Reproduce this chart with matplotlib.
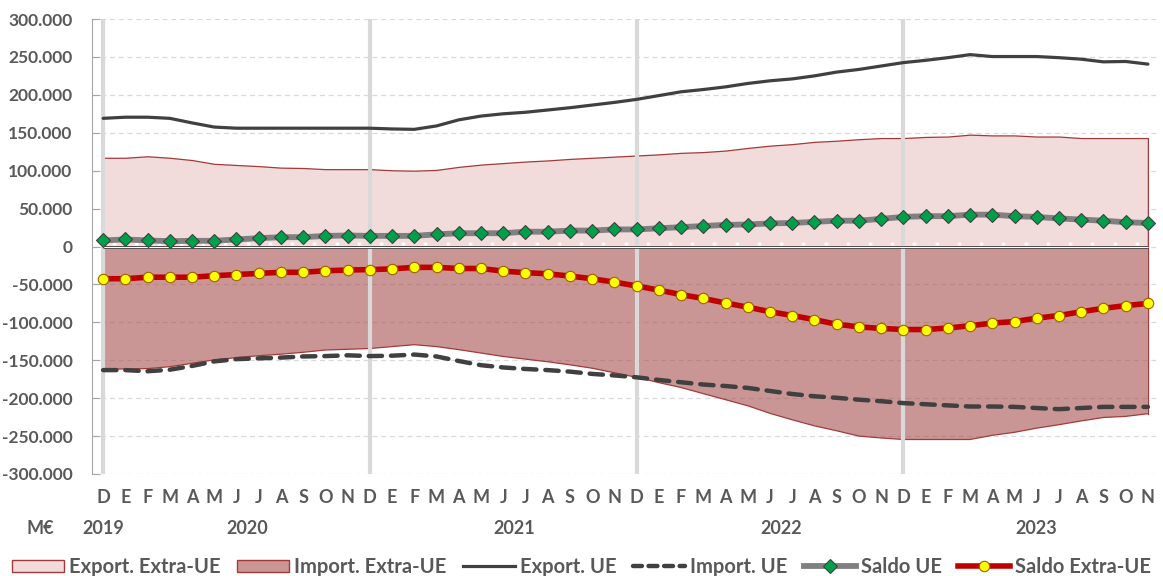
import matplotlib
matplotlib.use('Agg')
import matplotlib.pyplot as plt
from matplotlib.patches import Patch
from matplotlib.lines import Line2D
from matplotlib.ticker import FuncFormatter
import numpy as np

plt.rcParams['font.family'] = ['Lato', 'DejaVu Sans']
plt.rcParams['font.weight'] = 'bold'

# months Dec 2019 .. Nov 2023 (M€, thousands)
months = ['D'] + ['E', 'F', 'M', 'A', 'M', 'J', 'J', 'A', 'S', 'O', 'N', 'D'] * 3 + \
         ['E', 'F', 'M', 'A', 'M', 'J', 'J', 'A', 'S', 'O', 'N']
years = ['2019', '2020', '2021', '2022', '2023']
year_pos = [0, 6.5, 18.5, 30.5, 42]

export_ue = [169, 170.5, 170.5, 169, 163, 157.5, 156, 156, 156, 156, 156, 156, 156,
             155, 154.5, 159, 167, 172, 175, 177, 180, 183, 186.5, 190, 194, 199, 204, 207, 210.5, 215, 218.5,
             221, 225, 230, 233.5, 238, 242.5, 245.5, 249, 253, 250.5, 250.5, 250.5, 249, 247, 243.5, 244, 240.5]
export_extra = [117, 117, 119, 117, 114, 109, 107.5, 106, 104, 103.5, 102, 102, 102,
                100.5, 100, 101, 105, 108, 110, 112, 113.5, 115.5, 117, 118.5, 120, 121.5, 123.5, 124.5, 126.5, 130, 133,
                135, 138, 139.5, 141.5, 143, 143, 144.5, 145, 147.5, 146.5, 146.5, 145, 145, 143, 143, 143, 143]
saldo_ue = [8, 9.3, 8, 7, 7.5, 7.5, 9.3, 11, 12.3, 12.3, 14, 14.5, 14,
            14, 14, 16, 17.5, 17.5, 17.5, 19.5, 19.5, 21, 21, 22.5, 22.5, 24, 25.5, 27, 28.5, 29, 30.5,
            31, 32.5, 34, 34, 36.5, 39, 40, 40, 42, 42, 40, 39, 37, 35.5, 34, 32, 31]
saldo_extra = [-42.5, -42.5, -40.5, -40.5, -40.5, -38.5, -37, -35.5, -34, -34, -32, -31, -30.5,
               -29.5, -27.5, -27.5, -29, -29, -32.5, -34.5, -36, -39, -42.5, -47, -52, -57.5, -63.5, -68.5, -74.5, -80, -86,
               -91, -96.5, -102.5, -106, -108, -109.5, -109.5, -107.5, -104.5, -101, -99, -94.5, -91, -86, -81.5, -78, -75]
import_extra = [-161.5, -161.5, -161, -158.5, -154, -149.5, -146.5, -144, -142, -139.5, -136.5, -135.5, -134.5,
                -132, -129.5, -132, -136, -140.5, -145, -148.5, -152, -156, -160.5, -166.5, -172.5, -179.5, -186, -194, -202, -210, -220,
                -228.5, -236.5, -243, -250, -252.5, -254.5, -254.5, -254.5, -254.5, -249, -245, -239.5, -235, -230, -225.5, -224, -220.5]
import_ue = [-163, -163, -164.5, -162.5, -157.5, -151.5, -148.5, -147.5, -146.5, -145, -144.5, -143.5, -144.5,
             -144, -142.5, -145, -151, -156.5, -159.5, -161.5, -163, -165, -168, -170, -172.5, -176, -179, -182, -184, -186.5, -190.5,
             -194.5, -197.5, -199.5, -202, -204, -206.5, -208, -209.5, -211, -211, -211.5, -213, -214.5, -213, -211.5, -211.5, -211.5]

x = np.arange(len(months))
k = 1000
txt = '#595959'

fig = plt.figure(figsize=(11.63, 5.76), dpi=100)
ax = fig.add_axes([92/1163, 102/576, 1067/1163, 455/576])

# gridlines
for v in range(-300000, 300001, 50000):
    ax.axhline(v, color='#d9d9d9', lw=0.9, ls=(0, (4, 3)), zorder=1)

# areas
ax.fill_between(x, 0, np.array(export_extra)*k, facecolor='#f2dcdb', edgecolor='#a33a3a', lw=0.9, zorder=2)
ax.fill_between(x, 0, np.array(import_extra)*k, facecolor='#a84f4f', alpha=0.6, edgecolor='none', zorder=2)
ax.plot(x, np.array(import_extra)*k, color='#a33a3a', lw=0.9, zorder=2)
ax.plot([x[-1], x[-1]], [0, import_extra[-1]*k], color='#a33a3a', lw=0.9, zorder=2)

# year separators
for i in [0, 12, 24, 36]:
    ax.axvline(i, color='#d9d9d9', lw=3, zorder=3)

# zero line with small white ticks
ax.hlines(0, 0, x[-1], color='#404040', lw=2, zorder=4)
ax.hlines(-900, 0, x[-1], color='white', lw=0.8, zorder=4)
ax.vlines(x[:-1] + 0.5, 1500, 5500, color='white', lw=2.5, zorder=4)

# lines
ax.plot(x, np.array(export_ue)*k, color='#404040', lw=2.3, zorder=5, solid_capstyle='round')
ax.plot(x, np.array(import_ue)*k, color='#404040', lw=3.2, ls=(0, (3, 2)), dash_capstyle='round', zorder=5)
ax.plot(x, np.array(saldo_ue)*k, color='#808080', lw=4.2, marker='D', ms=7,
        mfc='#00a04a', mec='#404040', mew=0.8, zorder=6)
ax.plot(x, np.array(saldo_extra)*k, color='#c00000', lw=4.0, marker='o', ms=7.5,
        mfc='#ffff00', mec='#a06000', mew=0.8, zorder=6)

ax.set_xlim(-0.5, 47.5)
ax.set_ylim(-300000, 300000)
ax.set_yticks(range(-300000, 300001, 50000))
ax.yaxis.set_major_formatter(FuncFormatter(lambda v, p: f'{int(v):,}'.replace(',', '.')))
ax.set_xticks(x)
ax.set_xticklabels(months)
ax.tick_params(axis='x', length=0, pad=11, labelsize=13, labelcolor=txt)
ax.tick_params(axis='y', direction='in', length=6, color='#a6a6a6', labelsize=12.5, labelcolor=txt, pad=14)
for s in ['top', 'right', 'bottom']:
    ax.spines[s].set_visible(False)
ax.spines['left'].set_color('#a6a6a6')

for yr, p in zip(years, year_pos):
    ax.annotate(yr, xy=(p, 0), xycoords=('data', 'axes fraction'), xytext=(0, -55),
                textcoords='offset pixels', ha='center', va='center', fontsize=13, color=txt, fontweight='bold')
fig.text(40/1163, 1 - 529/576, 'M€', ha='center', va='center', fontsize=13, color=txt, fontweight='bold')

handles = [
    Patch(facecolor='#f2dcdb', edgecolor='#a33a3a', lw=1),
    Patch(facecolor='#c99595', edgecolor='#a33a3a', lw=1),
    Line2D([], [], color='#404040', lw=2.3),
    Line2D([], [], color='#404040', lw=3.2, ls=(0, (2, 1.5)), dash_capstyle='round'),
    Line2D([], [], color='#808080', lw=4.2, marker='D', ms=7, mfc='#00a04a', mec='#404040', mew=0.8),
    Line2D([], [], color='#c00000', lw=4.0, marker='o', ms=7.5, mfc='#ffff00', mec='#a06000', mew=0.8),
]
labels = ['Export. Extra-UE', 'Import. Extra-UE', 'Export. UE', 'Import. UE', 'Saldo UE', 'Saldo Extra-UE']
leg = fig.legend(handles, labels, loc='center', bbox_to_anchor=(0.5, 1 - 567/576), ncol=6, frameon=False,
                 fontsize=14.5, handlelength=2.6, handleheight=0.6, handletextpad=0.25, columnspacing=0.8,
                 borderaxespad=0, borderpad=0)
for t in leg.get_texts():
    t.set_color(txt)
    t.set_fontweight('bold')

fig.savefig('out.png', dpi=100)
